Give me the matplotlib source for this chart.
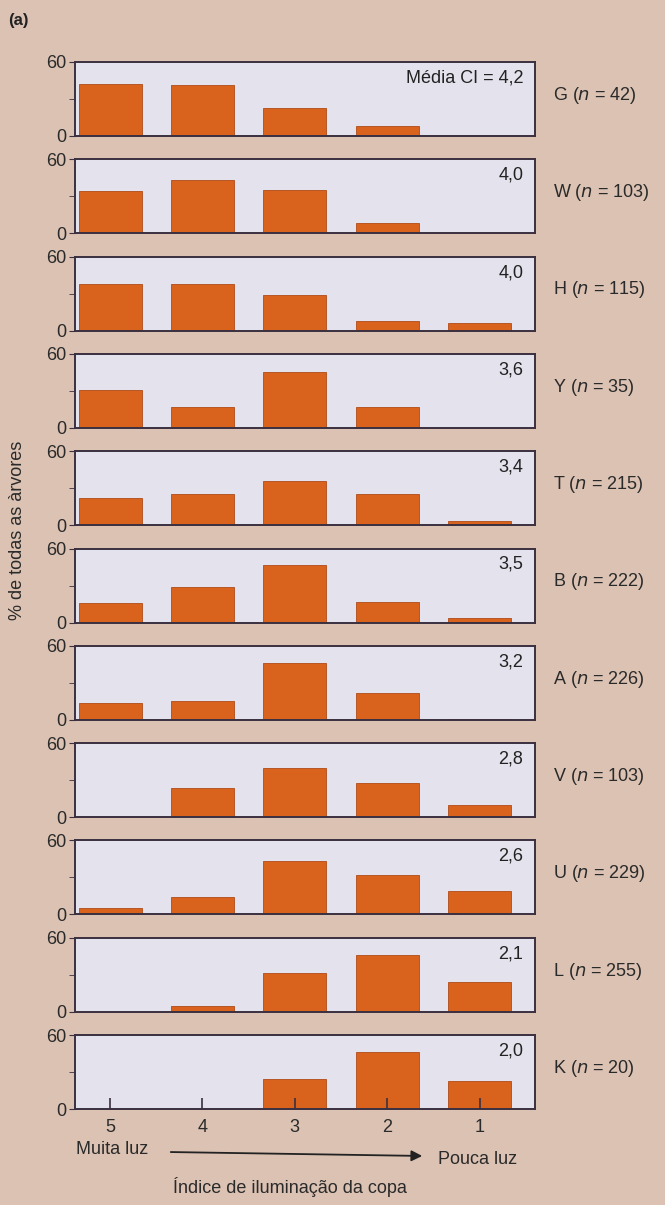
"""Distribuição de árvores por índice de iluminação da copa (painel a)."""

import matplotlib
matplotlib.use("Agg")
import matplotlib.pyplot as plt
import numpy as np

plt.rcParams["font.family"] = ["Liberation Sans", "DejaVu Sans"]

# índice de iluminação da copa (5 = muita luz, 1 = pouca luz)
ci_labels = ["5", "4", "3", "2", "1"]

species = ["G", "W", "H", "Y", "T", "B", "A", "V", "U", "L", "K"]
n_trees = [42, 103, 115, 35, 215, 222, 226, 103, 229, 255, 20]
mean_ci = ["Média CI = 4,2", "4,0", "4,0", "3,6", "3,4", "3,5",
           "3,2", "2,8", "2,6", "2,1", "2,0"]

# % de todas as árvores em cada classe (5, 4, 3, 2, 1)
pct_G = [42, 41, 23, 8, 0]
pct_W = [34, 43, 35, 8, 0]
pct_H = [38, 38, 29, 8, 6]
pct_Y = [31, 17, 45, 17, 0]
pct_T = [22, 25, 36, 25, 3]
pct_B = [16, 29, 47, 17, 4]
pct_A = [14, 15, 46, 22, 1]
pct_V = [0, 24, 40, 28, 10]
pct_U = [5, 14, 43, 32, 19]
pct_L = [0, 5, 31, 46, 24]
pct_K = [0, 0, 24, 46, 23]
pct_all = [pct_G, pct_W, pct_H, pct_Y, pct_T, pct_B, pct_A,
           pct_V, pct_U, pct_L, pct_K]

BG = "#dbc2b3"
FACE = "#e4e2ec"
BAR = "#d9621d"
EDGE = "#3a3040"

W_PX, H_PX = 665, 1205
fig = plt.figure(figsize=(W_PX / 100, H_PX / 100), dpi=100, facecolor=BG)

left, right = 75, 535
top0, step, height = 62, 97.3, 74
x = np.arange(len(ci_labels))

for i, (sp, n, ci, vals) in enumerate(zip(species, n_trees, mean_ci, pct_all)):
    top = top0 + i * step
    ax = fig.add_axes([left / W_PX, 1 - (top + height) / H_PX,
                       (right - left) / W_PX, height / H_PX])
    ax.set_facecolor(FACE)
    ax.bar(x, vals, width=0.68, color=BAR, edgecolor="#b04a18", linewidth=0.6)
    ax.set_xlim(-0.38, 4.6)
    ax.set_ylim(0, 60)
    ax.set_yticks([0, 60])
    ax.set_yticks([30], minor=True)
    ax.tick_params(axis="y", which="both", direction="out", length=4,
                   labelsize=13, colors=EDGE, labelcolor="#2a2a2a", pad=2)
    for s in ax.spines.values():
        s.set_color(EDGE)
        s.set_linewidth(1.4)
    if i < len(species) - 1:
        ax.set_xticks([])
    else:
        ax.set_xticks(x)
        ax.set_xticklabels(ci_labels)
        ax.tick_params(axis="x", direction="in", length=8, width=1.2,
                       labelsize=13, pad=7, colors=EDGE,
                       labelcolor="#2a2a2a")
    ax.text(0.975, 0.9, ci, transform=ax.transAxes, ha="right", va="top",
            fontsize=13, color="#222222")
    ax.text(1.04, 0.55, f"{sp} ($n$ = {n})", transform=ax.transAxes,
            ha="left", va="center", fontsize=13, color="#2a2a2a")

fig.text(8 / W_PX, 1 - 20 / H_PX, "(a)", fontsize=12, fontweight="bold",
         ha="left", va="center", color="#222222")
fig.text(18 / W_PX, 1 - 530 / H_PX, "% de todas as àrvores", rotation=90,
         fontsize=13, ha="center", va="center", color="#2a2a2a")
fig.text(112 / W_PX, 1 - 1150 / H_PX, "Muita luz", fontsize=13,
         ha="center", va="center", color="#2a2a2a")
fig.text(478 / W_PX, 1 - 1160 / H_PX, "Pouca luz", fontsize=13,
         ha="center", va="center", color="#2a2a2a")
fig.text(290 / W_PX, 1 - 1187 / H_PX, "Índice de iluminação da copa",
         fontsize=13, ha="center", va="center", color="#2a2a2a")
fig.add_artist(matplotlib.patches.FancyArrowPatch(
    (168 / W_PX, 1 - 1152 / H_PX), (425 / W_PX, 1 - 1156 / H_PX),
    transform=fig.transFigure, arrowstyle="-|>", mutation_scale=16,
    color="#222222", linewidth=1.3))

fig.savefig("out.png", dpi=100, facecolor=BG)
